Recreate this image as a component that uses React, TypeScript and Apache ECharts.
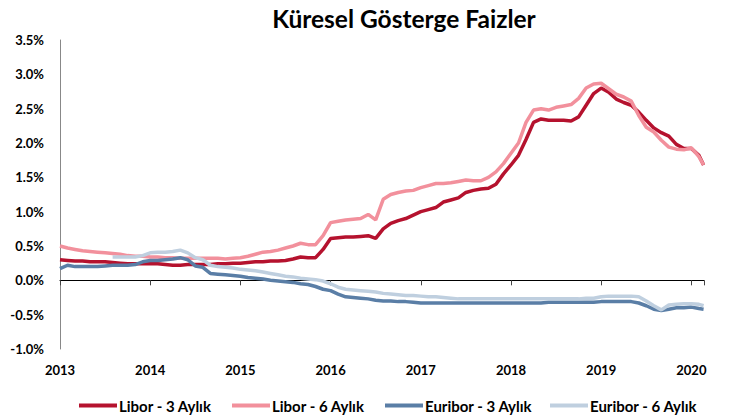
import React, { useEffect, useRef } from "react";
import * as echarts from "echarts";

// Monthly observations, Jan 2013 ... Feb 2020, plus a final mid-Feb 2020 reading
const dates: string[] = [];
for (let y = 2013; y <= 2020; y++) {
  for (let m = 1; m <= 12; m++) {
    if (y === 2020 && m > 2) break;
    dates.push(`${y}-${String(m).padStart(2, "0")}-01`);
  }
}
dates.push("2020-02-20");

const yearTicks = ["2013", "2014", "2015", "2016", "2017", "2018", "2019", "2020"];

const libor3M = [
  0.30, 0.29, 0.28, 0.28, 0.27, 0.27, 0.27, 0.26, 0.25, 0.24, 0.24, 0.24,
  0.24, 0.24, 0.23, 0.22, 0.22, 0.23, 0.23, 0.23, 0.23, 0.24, 0.24, 0.25,
  0.25, 0.26, 0.27, 0.27, 0.28, 0.28, 0.29, 0.31, 0.34, 0.33, 0.33, 0.45,
  0.61, 0.62, 0.63, 0.63, 0.64, 0.65, 0.61, 0.75, 0.83, 0.87, 0.90, 0.95,
  1.00, 1.03, 1.06, 1.14, 1.17, 1.20, 1.28, 1.31, 1.33, 1.34, 1.40, 1.55,
  1.68, 1.82, 2.05, 2.30, 2.35, 2.33, 2.33, 2.33, 2.32, 2.38, 2.55, 2.72,
  2.80, 2.74, 2.64, 2.59, 2.55, 2.45, 2.33, 2.22, 2.15, 2.10, 1.98, 1.92,
  1.92, 1.82, 1.68,
];

const libor6M = [
  0.50, 0.47, 0.45, 0.43, 0.42, 0.41, 0.40, 0.39, 0.38, 0.36, 0.35, 0.35,
  0.34, 0.34, 0.33, 0.33, 0.32, 0.32, 0.32, 0.32, 0.32, 0.32, 0.31, 0.32,
  0.33, 0.35, 0.38, 0.41, 0.42, 0.44, 0.47, 0.50, 0.54, 0.52, 0.52, 0.65,
  0.84, 0.86, 0.88, 0.89, 0.90, 0.96, 0.88, 1.18, 1.25, 1.28, 1.30, 1.31,
  1.35, 1.38, 1.41, 1.41, 1.42, 1.44, 1.46, 1.45, 1.45, 1.50, 1.58, 1.70,
  1.85, 2.00, 2.30, 2.48, 2.50, 2.48, 2.52, 2.54, 2.56, 2.65, 2.80, 2.86,
  2.87, 2.79, 2.71, 2.67, 2.61, 2.40, 2.23, 2.16, 2.04, 1.94, 1.91, 1.90,
  1.93, 1.80, 1.68,
];

const euribor3M = [
  0.17, 0.22, 0.20, 0.20, 0.20, 0.20, 0.21, 0.22, 0.22, 0.22, 0.23, 0.27,
  0.29, 0.29, 0.30, 0.31, 0.33, 0.30, 0.21, 0.19, 0.10, 0.09, 0.08, 0.07,
  0.06, 0.04, 0.03, 0.02, 0.00, -0.01, -0.02, -0.03, -0.05, -0.06, -0.09, -0.13,
  -0.15, -0.20, -0.24, -0.25, -0.26, -0.27, -0.29, -0.30, -0.30, -0.31, -0.31, -0.32,
  -0.33, -0.33, -0.33, -0.33, -0.33, -0.33, -0.33, -0.33, -0.33, -0.33, -0.33, -0.33,
  -0.33, -0.33, -0.33, -0.33, -0.33, -0.32, -0.32, -0.32, -0.32, -0.32, -0.32, -0.32,
  -0.31, -0.31, -0.31, -0.31, -0.31, -0.33, -0.37, -0.42, -0.44, -0.42, -0.40, -0.40,
  -0.39, -0.41, -0.42,
];

const euribor6M = [
  null, null, null, null, null, null, null, 0.34, 0.34, 0.34, 0.34, 0.36,
  0.40, 0.41, 0.41, 0.42, 0.44, 0.40, 0.33, 0.30, 0.22, 0.20, 0.19, 0.18,
  0.16, 0.15, 0.14, 0.12, 0.10, 0.08, 0.06, 0.05, 0.03, 0.02, 0.01, -0.01,
  -0.05, -0.10, -0.13, -0.14, -0.15, -0.16, -0.17, -0.19, -0.20, -0.21, -0.22, -0.22,
  -0.23, -0.24, -0.24, -0.25, -0.26, -0.27, -0.27, -0.27, -0.27, -0.27, -0.27, -0.27,
  -0.27, -0.27, -0.27, -0.27, -0.27, -0.27, -0.27, -0.27, -0.27, -0.27, -0.26, -0.26,
  -0.24, -0.23, -0.23, -0.23, -0.23, -0.24, -0.30, -0.37, -0.43, -0.36, -0.35, -0.34,
  -0.34, -0.35, -0.37,
];

const seriesNames = ["Libor - 3 Aylık", "Libor - 6 Aylık", "Euribor - 3 Aylık", "Euribor - 6 Aylık"];
const seriesColors = ["#B5122E", "#F2909C", "#5A7EA6", "#BFCFDF"];
const seriesValues = [libor3M, libor6M, euribor3M, euribor6M];
const legendLefts = [74, 227, 380, 545];

const FONT = "Lato";

function toYear(d: string): number {
  const [y, m, day] = d.split("-").map(Number);
  return y + (m - 1) / 12 + (day - 1) / 365;
}

const xMin = Number(yearTicks[0]);
const xMax = 2020.14;

export default function App() {
  const ref = useRef<HTMLDivElement>(null);
  useEffect(() => {
    if (!ref.current) return;
    const chart = echarts.init(ref.current, undefined, { renderer: "svg" });
    const xs = dates.map(toYear);
    const labelFmt = (v: number) => (yearTicks.includes(String(v)) ? String(v) : "");
    chart.setOption({
      animation: false,
      title: {
        text: "Küresel Gösterge Faizler",
        left: 399,
        top: 1,
        textAlign: "center",
        textStyle: { fontFamily: FONT, fontWeight: "bold", fontSize: 24.5, color: "#000" },
      },
      grid: { left: 60, right: 25, top: 40, bottom: 67 },
      xAxis: [
        {
          type: "value",
          min: xMin,
          max: xMax,
          interval: 1,
          position: "bottom",
          axisLine: { show: true, onZero: true, lineStyle: { color: "#000", width: 1 } },
          axisTick: { show: true, length: 5, lineStyle: { color: "#444" } },
          axisLabel: { show: false },
          splitLine: { show: false },
        },
        {
          type: "value",
          min: xMin,
          max: xMax,
          interval: 1,
          position: "bottom",
          axisLine: { show: false, onZero: false },
          axisTick: { show: false },
          axisLabel: {
            margin: 14,
            formatter: labelFmt,
            fontFamily: FONT,
            fontWeight: "bold",
            fontSize: 13,
            color: "#000",
          },
          splitLine: { show: false },
        },
      ],
      yAxis: {
        type: "value",
        min: -1,
        max: 3.5,
        interval: 0.5,
        axisLine: { show: true, onZero: false, lineStyle: { color: "#888", width: 1 } },
        axisTick: { show: false },
        splitLine: { show: false },
        axisLabel: {
          margin: 16,
          formatter: (v: number) => v.toFixed(1) + "%",
          fontFamily: FONT,
          fontWeight: "bold",
          fontSize: 13,
          color: "#000",
        },
      },
      legend: seriesNames.map((name, i) => ({
        data: [name],
        left: legendLefts[i],
        top: 393,
        icon: "rect",
        itemWidth: 38,
        itemHeight: 4,
        textStyle: { fontFamily: FONT, fontWeight: "bold", fontSize: 15, color: "#000", padding: [0, 0, 0, -3] },
      })),
      series: seriesNames.map((name, i) => ({
        name,
        type: "line",
        xAxisIndex: 0,
        showSymbol: false,
        symbol: "none",
        color: seriesColors[i],
        lineStyle: { width: 3.5, color: seriesColors[i] },
        data: xs.map((x, j) => [x, seriesValues[i][j]]),
        z: 2 + i,
      })),
    });
    return () => chart.dispose();
  }, []);
  return <div ref={ref} style={{ width: 729, height: 416, position: "absolute", left: 0, top: 0 }} />;
}
